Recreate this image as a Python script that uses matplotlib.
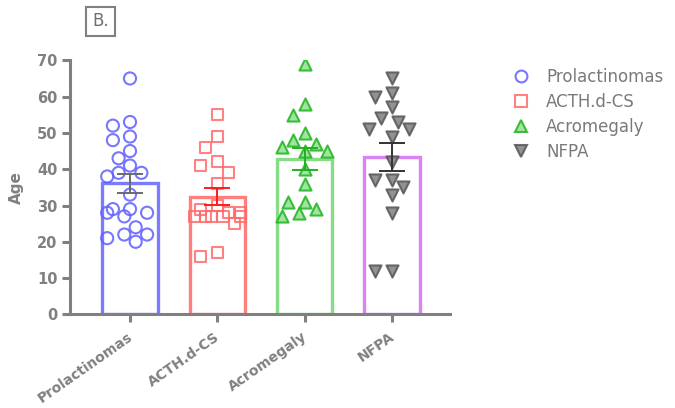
import numpy as np
import matplotlib
matplotlib.use("Agg")
import matplotlib.pyplot as plt
from matplotlib.lines import Line2D
from matplotlib.transforms import ScaledTranslation

# ---- data ----
groups = ["Prolactinomas", "ACTH.d-CS", "Acromegaly", "NFPA"]
prolactinomas = [65, 53, 52, 49, 48, 45, 43, 41, 39, 39, 38, 33, 29, 29, 28, 28, 27, 24, 22, 22, 21, 20]
acth = [55, 49, 46, 42, 41, 39, 36, 30, 29, 28, 28, 27, 27, 27, 27, 27, 25, 17, 16]
acromegaly = [69, 58, 55, 50, 48, 47, 46, 45, 45, 40, 36, 31, 31, 29, 28, 27]
nfpa = [65, 61, 60, 57, 54, 53, 51, 51, 49, 42, 37, 37, 35, 33, 28, 12, 12]
values = [prolactinomas, acth, acromegaly, nfpa]
yticks = [0, 10, 20, 30, 40, 50, 60, 70]

# ---- styles ----
markers = ["o", "s", "^", "v"]
m_face = ["none", "none", "#8fe08f", "#7f7f7f"]
m_edge = ["#5f5fff", "#ff6b6b", "#1fb41f", "#555555"]
bar_edge = ["#7b7bff", "#ff7f7f", "#86dd86", "#d884f2"]
err_col = ["#6a6a6a", "#ff1a1a", "#22b022", "#333333"]
gray = "#808080"

plt.rcParams["font.family"] = ["DejaVu Sans"]

fig = plt.figure(figsize=(6.75, 4.08), dpi=100)
W, H = 675, 408
ax = fig.add_axes([70 / W, (408 - 314.4) / H, 380 / W, (314.4 - 60.3) / H])
x = np.arange(len(groups))
ax.set_xlim(-0.687, 3.664)
ax.set_ylim(0, 70)

# bars (mean)
means = [np.mean(v) for v in values]
sems = [np.std(v, ddof=1) / np.sqrt(len(v)) for v in values]
ax.bar(x, means, width=0.63, facecolor="none", edgecolor=bar_edge,
       linewidth=2.4, zorder=2)

# beeswarm-like layout computed in pixel space
fig.canvas.draw()
px_x = ax.transData.transform((1, 0))[0] - ax.transData.transform((0, 0))[0]
px_y = ax.transData.transform((0, 1))[1] - ax.transData.transform((0, 0))[1]
step = 5.7   # px
diam = 12.5  # px
max_off = 24.0


def swarm(vals):
    order = np.argsort(-vals, kind="stable")
    placed = []
    offs = np.zeros(len(vals))
    cands = [0.0]
    k = 1
    while k * step <= max_off + 0.1:
        cands += [-k * step, k * step]
        k += 1
    for i in order:
        yp = vals[i] * px_y
        best, best_pen = None, None
        for c in cands:
            pen = 0.0
            for (xo, yo) in placed:
                d = np.hypot(xo - c, yo - yp)
                if d < diam:
                    pen += diam - d
            if pen == 0:
                best = c
                break
            if best_pen is None or pen < best_pen - 1e-9:
                best, best_pen = c, pen
        offs[i] = best
        placed.append((best, yp))
    return offs / px_x


for i, v in enumerate(values):
    offs = swarm(np.array(v, dtype=float))
    ax.scatter(x[i] + offs, v, marker=markers[i], s=76 if i != 1 else 64,
               facecolors=m_face[i], edgecolors=m_edge[i], linewidths=1.5,
               alpha=0.85, zorder=3)
    ax.errorbar(x[i], means[i], yerr=sems[i], fmt="none", ecolor=err_col[i],
                elinewidth=1.4, capsize=9.7, capthick=1.4, zorder=4)

# axes styling
for s in ["top", "right"]:
    ax.spines[s].set_visible(False)
for s in ["left", "bottom"]:
    ax.spines[s].set_color(gray)
    ax.spines[s].set_linewidth(2.2)
ax.tick_params(axis="both", colors=gray, width=2.2, length=5.5, labelsize=10.5)
ax.set_yticks(yticks)
ax.set_xticks(x)
ax.set_xticklabels(groups, rotation=35, ha="right", va="top",
                   rotation_mode="anchor", fontweight="bold", color=gray, fontsize=10)
for lab in ax.get_yticklabels():
    lab.set_fontweight("bold")
    lab.set_color(gray)
ax.tick_params(axis="x", pad=5.5)
for lab in ax.get_xticklabels():
    lab.set_transform(lab.get_transform() + ScaledTranslation(-2 / 72, 0, fig.dpi_scale_trans))
ax.set_ylabel("Age", fontsize=11, fontweight="bold", color=gray)
ax.yaxis.set_label_coords(-0.12, 0.5)

# legend
handles = [Line2D([0], [0], marker=markers[i], linestyle="none", markersize=8.5,
                  markerfacecolor=m_face[i], markeredgecolor=m_edge[i],
                  markeredgewidth=1.5, alpha=0.85) for i in range(4)]
leg = fig.legend(handles, groups, loc="upper left", bbox_to_anchor=(496 / W, 1 - 53 / H),
                 frameon=False, fontsize=12, labelcolor="#7a7a7a",
                 handletextpad=0.9, labelspacing=0.42, handlelength=1.2)

# panel label
fig.text(100.5 / W, 1 - 21.5 / H, "B.", fontsize=12, color="#707070", ha="center", va="center",
         bbox=dict(boxstyle="square,pad=0.35", facecolor="white", edgecolor=gray, linewidth=1.5))

fig.savefig("out.png", dpi=100)
